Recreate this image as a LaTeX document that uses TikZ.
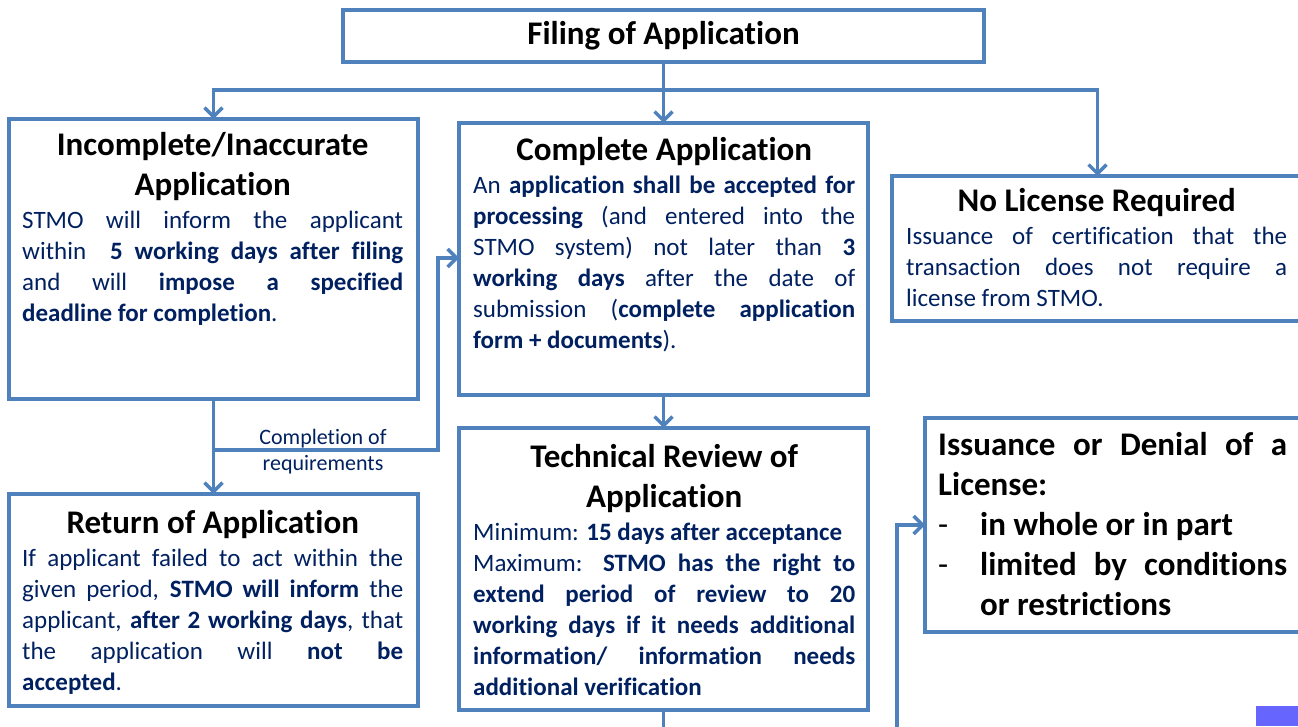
\documentclass[tikz,border=0pt]{standalone}
\usepackage{fontspec}
\setmainfont{Carlito}[Ligatures=NoCommon]
\usetikzlibrary{arrows.meta}
\definecolor{lineblue}{HTML}{4F81BD}
\definecolor{navy}{HTML}{002060}
\definecolor{purp}{HTML}{6666FF}
\newcommand\bodyset{\fontsize{25}{31}\selectfont\hyphenpenalty=10000\exhyphenpenalty=10000\tolerance=10000\parindent=0pt}
\newcommand\ttl[1]{{\centering\color{black}\bfseries\fontsize{33}{40}\selectfont #1\par}}
\newcommand\dashitem{\makebox[42pt][l]{\mdseries -}}
\tikzset{
  x=1pt,y=-1pt,
  box/.style={draw=lineblue,line width=3.5pt,inner sep=0pt,outer sep=0pt,anchor=north west},
  txt/.style={anchor=north west,inner sep=0pt,text width=#1,align=justify,text=navy,font=\bodyset},
  conn/.style={draw=lineblue,line width=3.5pt},
  arr/.style={conn,-{Straight Barb[length=9pt,width=18pt,line width=3.5pt]}},
  lbl/.style={inner sep=0pt,align=center,text=navy,font=\fontsize{22}{26}\selectfont},
}
\begin{document}
\begin{tikzpicture}
\useasboundingbox (0,0) rectangle (1298,726);
\clip (0,0) rectangle (1298,726);
% boxes
\node[box,anchor=center,minimum width=641pt,minimum height=52pt,font=\bfseries\fontsize{33}{40}\selectfont] (filing) at (663.5,36) {Filing of Application};
\node[box,minimum width=409pt,minimum height=280pt] (incomplete) at (9,119) {};
\node[box,minimum width=409pt,minimum height=272pt] (complete) at (459,123) {};
\node[box,minimum width=411pt,minimum height=145pt] (nolic) at (892,176) {};
\node[box,minimum width=409pt,minimum height=212pt] (return) at (9,494) {};
\node[box,minimum width=409pt,minimum height=282pt] (tech) at (459,428) {};
\node[box,minimum width=380pt,minimum height=214pt] (iss) at (925,418) {};
% texts
\node[txt=381pt] (tincomplete) at (22,132) {\ttl{Incomplete/Inaccurate\\Application}\vspace{2pt}%
STMO will inform the applicant \linebreak within \ \textbf{5 working days after filing} \linebreak and will \textbf{impose a specified} \linebreak \textbf{deadline for completion}.};
\node[txt=382pt] (tcomplete) at (473,137) {\ttl{Complete Application}\vspace{2pt}%
An \textbf{application shall be accepted for} \linebreak \textbf{processing} (and entered into the \linebreak STMO system) not later than \textbf{3} \linebreak \textbf{working days} after the date of \linebreak submission (\textbf{complete application} \linebreak \textbf{form + documents}).};
\node[txt=381pt] (tnolic) at (906,188) {\ttl{No License Required}\vspace{2pt}%
Issuance of certification that the \linebreak transaction does not require a \linebreak license from STMO.};
\node[txt=381pt] (treturn) at (22,510) {\ttl{Return of Application}\vspace{2pt}%
If applicant failed to act within the \linebreak given period, \textbf{STMO will inform} the \linebreak applicant, \textbf{after 2 working days}, that \linebreak the application will \textbf{not be} \linebreak \textbf{accepted}.};
\node[txt=382pt] (ttech) at (473,444) {\ttl{Technical Review of\\Application}\vspace{2pt}%
Minimum: \textbf{15 days after acceptance}\par
Maximum: \textbf{STMO has the right to \linebreak extend period of review to 20 \linebreak working days if it needs additional \linebreak information/ information needs \linebreak additional verification}};
\node[txt=349pt,text=black,font={\bodyset\bfseries\fontsize{33}{40}\selectfont}] (tiss) at (938,432) {Issuance or Denial of a \linebreak License:\par
\hangindent=42pt\hangafter=1\noindent\dashitem in whole or in part\par
\hangindent=42pt\hangafter=1\noindent\dashitem limited by conditions \linebreak or restrictions\par};
% label
\node[lbl] (lab) at (323,452) {Completion of\\requirements};
% connectors
\coordinate (j) at (663.5,90);
\coordinate (k) at (213.5,450);
\coordinate (c1) at (438,258);
\coordinate (tb) at (663.5,732);
\coordinate (ib) at (897,732);
\draw[conn] (filing.south) -- (j);
\draw[arr] (j) -- (complete.north);
\draw[arr] (j) -| (incomplete.north);
\draw[arr] (j) -| (nolic.north);
\draw[arr] (incomplete.south) -- (return.north);
\draw[arr] (k) -| (c1) -- (c1 -| complete.west);
\draw[arr] (complete.south) -- (tech.north);
\draw[conn] (tech.south) -- (tb);
\draw[arr] (ib) |- (iss.west);
% corner block
\fill[purp] (1256,706) rectangle (1298,726);
\end{tikzpicture}
\end{document}
